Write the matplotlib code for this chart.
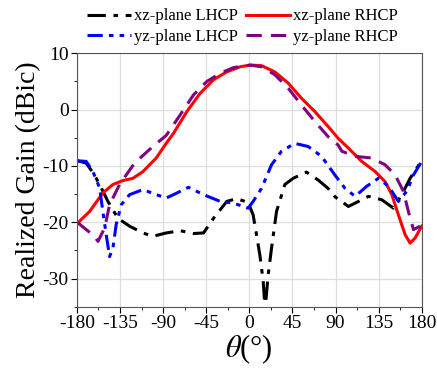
import numpy as np
import matplotlib
matplotlib.use("Agg")
import matplotlib.pyplot as plt
from matplotlib.ticker import MultipleLocator

plt.rcParams['font.family'] = ['Liberation Serif', 'DejaVu Serif']
plt.rcParams['mathtext.fontset'] = 'stix'
plt.rcParams['axes.unicode_minus'] = False

# xz-plane LHCP
xz_l_th = [-179, -170.3, -161.6, -154.6, -147.6, -137.2, -125, -111, -100.7, -86.8, -72.2, -58.3, -47.8,
           -37.4, -23.5, -13, -1.2, 4, 7.5, 11, 14.5, 16.5, 19.7, 23.2, 28.4, 37.1, 45.8, 59.7, 71.9,
           82.3, 89.6, 103.5, 114, 124.4, 138.3, 150.5, 159.2, 167.9, 178.3]
xz_l_g = [-9.1, -9.5, -11.6, -13.9, -16.3, -19.3, -20.7, -21.9, -22.5, -21.9, -21.5, -22.0, -21.9,
          -19.3, -16.3, -15.8, -16.5, -18.7, -22.2, -25.8, -30.5, -35.5, -29.3, -24.6, -18.1, -13.3, -12.2, -11.1, -12.5,
          -14.0, -15.5, -17.2, -16.3, -15.4, -16.0, -17.5, -15.1, -12.2, -9.5]

# xz-plane RHCP
xz_r_th = [-179, -166.8, -152.9, -142.4, -132, -121.5, -111, -97.2, -86.8, -79.1, -65.2, -51.3, -37.4,
           -23.5, -9.5, 0.9, 12.7, 26.6, 40.6, 54.5, 68.4, 82.3, 92.8, 103.5, 117.4, 131.4, 141.8,
           148.8, 155.7, 162.7, 167.9, 173.1, 180]
xz_r_g = [-20.1, -18.1, -14.8, -13.3, -12.6, -12.2, -11.0, -8.6, -6.0, -4.2, -0.35, 2.9, 5.3,
          6.7, 7.6, 7.9, 7.8, 6.7, 4.7, 2.0, -0.35, -3.0, -5.1, -6.85, -9.2, -11.0, -12.8,
          -15.1, -18.7, -22.2, -23.7, -22.8, -20.7]

# yz-plane LHCP
yz_l_th = [-179, -170.3, -163.3, -156.3, -152.9, -149.4, -145.9, -142.4, -139, -133.7, -125, -111, -97.2,
           -86.8, -79.1, -63.5, -47.8, -30.4, -16.5, -1.2, 4, 12.7, 23.2, 33.6, 47.5, 61.4, 75.4, 89.3,
           100, 110.5, 122.7, 134.8, 145.3, 155.7, 164.4, 171.4, 180]
yz_l_g = [-9.1, -9.2, -11.0, -13.9, -18.1, -22.2, -26.1, -24.6, -20.4, -16.9, -15.1, -14.2, -15.1,
          -15.7, -15.1, -13.8, -15.1, -16.3, -16.6, -17.5, -16.3, -14.0, -9.8, -7.4, -6.0, -6.55, -8.3, -11.6,
          -14.0, -15.4, -13.6, -12.2, -13.6, -16.3, -14.5, -11.6, -9.2]

# yz-plane RHCP
yz_r_th = [-179, -161.6, -158, -151, -145.9, -135.5, -119.8, -100.7, -86.8, -72, -58.3, -44.3, -30.4,
           -16.5, 0.9, 12.7, 26.6, 40.6, 54.5, 68.4, 82.3, 92.8, 96.6, 110.5, 127.9, 141.8, 152.2,
           160.9, 166.1, 171.4, 178.3]
yz_r_g = [-20.1, -22.5, -23.4, -21.0, -16.9, -13.3, -9.5, -6.55, -4.6, -0.9, 2.6, 5.0, 6.45,
          7.45, 7.9, 7.6, 6.2, 3.8, 0.8, -2.1, -4.8, -6.3, -7.4, -8.3, -8.6, -9.8, -11.6,
          -14.5, -18.1, -21.3, -20.7]

fig = plt.figure(figsize=(4.37, 3.75), dpi=100)
ax = fig.add_axes([0.176, 0.182, 0.789, 0.676])

l1, = ax.plot(xz_l_th, xz_l_g, color='black', lw=2.2, linestyle=(0, (6, 2.5, 1.5, 2.5)), label='xz-plane LHCP')
l2, = ax.plot(xz_r_th, xz_r_g, color='red', lw=2.2, linestyle='-', label='xz-plane RHCP')
l3, = ax.plot(yz_l_th, yz_l_g, color='blue', lw=2.2, linestyle=(0, (5, 2, 1.5, 2, 1.5, 2)), label='yz-plane LHCP')
l4, = ax.plot(yz_r_th, yz_r_g, color='purple', lw=2.2, linestyle=(0, (5, 3)), label='yz-plane RHCP')

ax.set_xlim(-180, 180)
ax.set_ylim(-35, 10)
ax.set_xticks(np.arange(-180, 181, 45))
ax.set_yticks([-30, -20, -10, 0, 10])
ax.xaxis.set_minor_locator(MultipleLocator(22.5))
ax.yaxis.set_minor_locator(MultipleLocator(5))
ax.grid(True, which='major', color='#dddddd', lw=0.9)
ax.set_axisbelow(True)
ax.tick_params(which='major', direction='out', length=4, labelsize=14, pad=2)
ax.tick_params(which='minor', direction='out', length=2)
for s in ax.spines.values():
    s.set_color('#555555')

ax.set_ylabel('Realized Gain (dBic)', fontsize=20, labelpad=1)
ax.set_xlabel(r'$\theta$(°)', fontsize=22, labelpad=0)

fig.legend(handles=[l1, l3, l2, l4], ncol=2, frameon=False, fontsize=12,
           loc='upper center', bbox_to_anchor=(0.555, 1.0), handlelength=2.6,
           handletextpad=0.2, columnspacing=0.5, labelspacing=0.25, borderaxespad=0.1)

fig.savefig('out.png', dpi=100)
